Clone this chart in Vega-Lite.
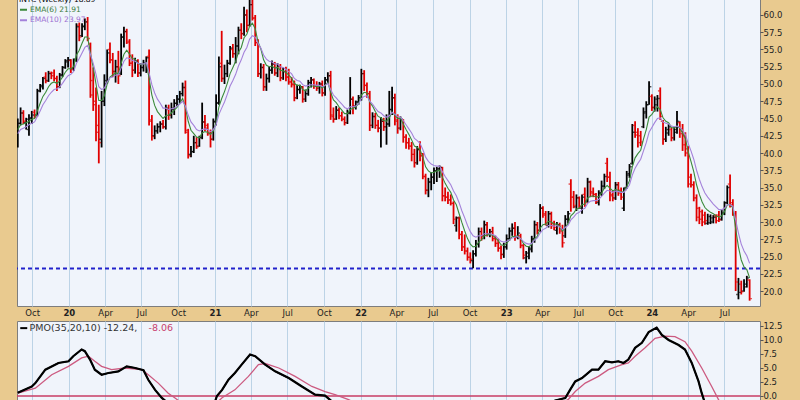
{
"$schema":"https://vega.github.io/schema/vega-lite/v6.json",
"background":"#e9ca8f",
"padding":{"left":15,"top":-7,"right":0,"bottom":0},
"spacing":2,
"config":{"font":"DejaVu Sans","view":{"fill":"#f0f4fb","stroke":"#7d7d7d","strokeWidth":1},
"axis":{"labelFont":"DejaVu Sans","labelFontSize":8.5,"labelColor":"#222222","gridOpacity":1,"gridWidth":1}},
"resolve":{"scale":{"x":"independent","y":"independent","color":"independent"},"legend":{"color":"independent"}},
"datasets":{
"px":[
{"d":"2019-08-26","o":41.5,"h":45.0,"l":40.8,"c":44.3,"e6":43.4,"e10":42.8},
{"d":"2019-09-02","o":44.3,"h":46.6,"l":44.0,"c":45.8,"e6":44.1,"e10":43.4},
{"d":"2019-09-09","o":45.8,"h":46.2,"l":44.2,"c":44.6,"e6":44.2,"e10":43.6},
{"d":"2019-09-16","o":44.4,"h":45.1,"l":43.4,"c":44.9,"e6":44.4,"e10":43.8},
{"d":"2019-09-23","o":43.4,"h":45.6,"l":42.5,"c":45.1,"e6":44.6,"e10":44.1},
{"d":"2019-09-30","o":45.0,"h":46.1,"l":44.2,"c":45.5,"e6":44.9,"e10":44.3},
{"d":"2019-10-07","o":45.9,"h":46.3,"l":45.0,"c":45.2,"e6":45.0,"e10":44.5},
{"d":"2019-10-14","o":45.5,"h":49.3,"l":45.3,"c":49.0,"e6":46.1,"e10":45.3},
{"d":"2019-10-21","o":49.0,"h":50.0,"l":48.8,"c":49.8,"e6":47.2,"e10":46.1},
{"d":"2019-10-28","o":49.6,"h":51.0,"l":49.2,"c":50.8,"e6":48.2,"e10":47.0},
{"d":"2019-11-04","o":51.0,"h":51.7,"l":50.1,"c":50.4,"e6":48.8,"e10":47.6},
{"d":"2019-11-11","o":50.5,"h":51.9,"l":50.3,"c":51.5,"e6":49.6,"e10":48.3},
{"d":"2019-11-18","o":51.6,"h":51.8,"l":50.7,"c":51.2,"e6":50.1,"e10":48.8},
{"d":"2019-11-25","o":51.6,"h":52.1,"l":50.4,"c":50.8,"e6":50.3,"e10":49.2},
{"d":"2019-12-02","o":50.8,"h":51.2,"l":49.0,"c":49.6,"e6":50.1,"e10":49.3},
{"d":"2019-12-09","o":49.6,"h":51.6,"l":49.4,"c":51.3,"e6":50.4,"e10":49.6},
{"d":"2019-12-16","o":51.3,"h":52.6,"l":51.0,"c":52.4,"e6":51.0,"e10":50.1},
{"d":"2019-12-23","o":52.4,"h":53.6,"l":52.2,"c":53.4,"e6":51.7,"e10":50.7},
{"d":"2019-12-30","o":53.2,"h":53.9,"l":52.4,"c":53.5,"e6":52.2,"e10":51.2},
{"d":"2020-01-06","o":53.4,"h":53.6,"l":51.6,"c":52.2,"e6":52.2,"e10":51.4},
{"d":"2020-01-13","o":52.2,"h":53.7,"l":51.9,"c":53.4,"e6":52.5,"e10":51.8},
{"d":"2020-01-20","o":53.6,"h":58.8,"l":53.2,"c":58.3,"e6":54.2,"e10":53.0},
{"d":"2020-01-27","o":58.5,"h":58.9,"l":56.2,"c":56.8,"e6":54.9,"e10":53.7},
{"d":"2020-02-03","o":57.0,"h":58.8,"l":56.8,"c":58.4,"e6":55.9,"e10":54.5},
{"d":"2020-02-10","o":58.3,"h":59.5,"l":57.8,"c":59.0,"e6":56.8,"e10":55.3},
{"d":"2020-02-17","o":59.0,"h":59.7,"l":56.2,"c":56.6,"e6":56.8,"e10":55.6},
{"d":"2020-02-24","o":55.8,"h":56.0,"l":48.0,"c":48.4,"e6":54.4,"e10":54.3},
{"d":"2020-03-02","o":50.5,"h":52.4,"l":46.1,"c":47.5,"e6":52.4,"e10":53.0},
{"d":"2020-03-09","o":47.0,"h":49.5,"l":41.7,"c":44.0,"e6":50.0,"e10":51.4},
{"d":"2020-03-16","o":43.0,"h":47.0,"l":38.5,"c":41.5,"e6":47.6,"e10":49.6},
{"d":"2020-03-23","o":42.0,"h":49.0,"l":40.8,"c":47.5,"e6":47.6,"e10":49.2},
{"d":"2020-03-30","o":47.5,"h":51.4,"l":46.8,"c":50.0,"e6":48.3,"e10":49.4},
{"d":"2020-04-06","o":50.5,"h":55.0,"l":50.0,"c":54.5,"e6":50.0,"e10":50.3},
{"d":"2020-04-13","o":55.0,"h":56.0,"l":53.0,"c":53.5,"e6":51.0,"e10":50.9},
{"d":"2020-04-20","o":53.5,"h":54.5,"l":51.0,"c":51.8,"e6":51.3,"e10":51.0},
{"d":"2020-04-27","o":51.8,"h":53.5,"l":50.2,"c":52.5,"e6":51.6,"e10":51.3},
{"d":"2020-05-04","o":52.5,"h":54.8,"l":50.0,"c":51.2,"e6":51.5,"e10":51.3},
{"d":"2020-05-11","o":51.5,"h":57.3,"l":51.3,"c":56.8,"e6":53.0,"e10":52.3},
{"d":"2020-05-18","o":56.8,"h":58.3,"l":55.3,"c":57.6,"e6":54.3,"e10":53.3},
{"d":"2020-05-25","o":57.6,"h":58.0,"l":55.8,"c":56.2,"e6":54.9,"e10":53.8},
{"d":"2020-06-01","o":56.0,"h":56.5,"l":52.6,"c":53.0,"e6":54.3,"e10":53.7},
{"d":"2020-06-08","o":53.0,"h":54.3,"l":51.0,"c":52.0,"e6":53.7,"e10":53.4},
{"d":"2020-06-15","o":52.0,"h":53.8,"l":51.5,"c":53.3,"e6":53.6,"e10":53.3},
{"d":"2020-06-22","o":53.3,"h":53.6,"l":51.0,"c":51.6,"e6":53.0,"e10":53.0},
{"d":"2020-06-29","o":51.6,"h":53.0,"l":51.1,"c":52.4,"e6":52.8,"e10":52.9},
{"d":"2020-07-06","o":52.4,"h":53.5,"l":51.8,"c":53.0,"e6":52.9,"e10":52.9},
{"d":"2020-07-13","o":53.0,"h":54.0,"l":51.6,"c":53.8,"e6":53.1,"e10":53.1},
{"d":"2020-07-20","o":54.0,"h":55.0,"l":44.0,"c":44.8,"e6":50.8,"e10":51.6},
{"d":"2020-07-27","o":44.6,"h":45.5,"l":41.8,"c":42.4,"e6":48.4,"e10":49.9},
{"d":"2020-08-03","o":42.5,"h":44.0,"l":42.0,"c":43.2,"e6":46.9,"e10":48.7},
{"d":"2020-08-10","o":43.2,"h":44.3,"l":42.8,"c":43.8,"e6":46.0,"e10":47.8},
{"d":"2020-08-17","o":43.8,"h":44.6,"l":43.0,"c":44.2,"e6":45.5,"e10":47.2},
{"d":"2020-08-24","o":44.2,"h":44.8,"l":43.5,"c":43.8,"e6":45.0,"e10":46.5},
{"d":"2020-08-31","o":43.8,"h":47.0,"l":43.4,"c":46.5,"e6":45.4,"e10":46.5},
{"d":"2020-09-07","o":46.3,"h":47.0,"l":44.8,"c":45.5,"e6":45.5,"e10":46.3},
{"d":"2020-09-14","o":45.5,"h":47.3,"l":45.0,"c":46.5,"e6":45.8,"e10":46.4},
{"d":"2020-09-21","o":46.3,"h":47.8,"l":45.5,"c":47.2,"e6":46.2,"e10":46.5},
{"d":"2020-09-28","o":47.2,"h":48.4,"l":46.8,"c":47.8,"e6":46.6,"e10":46.8},
{"d":"2020-10-05","o":47.8,"h":49.0,"l":47.2,"c":48.6,"e6":47.2,"e10":47.1},
{"d":"2020-10-12","o":48.6,"h":50.2,"l":48.2,"c":49.5,"e6":47.9,"e10":47.5},
{"d":"2020-10-19","o":49.5,"h":50.5,"l":42.8,"c":43.3,"e6":46.6,"e10":46.8},
{"d":"2020-10-26","o":43.0,"h":43.5,"l":39.2,"c":39.6,"e6":44.6,"e10":45.5},
{"d":"2020-11-02","o":39.8,"h":41.0,"l":39.4,"c":40.2,"e6":43.3,"e10":44.5},
{"d":"2020-11-09","o":40.2,"h":42.5,"l":40.0,"c":41.5,"e6":42.8,"e10":44.0},
{"d":"2020-11-16","o":41.5,"h":42.3,"l":40.6,"c":40.9,"e6":42.3,"e10":43.4},
{"d":"2020-11-23","o":41.0,"h":42.5,"l":40.9,"c":42.2,"e6":42.2,"e10":43.2},
{"d":"2020-11-30","o":42.3,"h":47.3,"l":42.0,"c":44.5,"e6":42.9,"e10":43.4},
{"d":"2020-12-07","o":44.5,"h":45.5,"l":43.2,"c":43.6,"e6":43.1,"e10":43.5},
{"d":"2020-12-14","o":44.0,"h":44.3,"l":42.5,"c":42.9,"e6":43.0,"e10":43.4},
{"d":"2020-12-21","o":42.8,"h":43.4,"l":40.8,"c":42.0,"e6":42.7,"e10":43.1},
{"d":"2020-12-28","o":42.0,"h":45.0,"l":41.8,"c":44.5,"e6":43.2,"e10":43.4},
{"d":"2021-01-04","o":44.6,"h":48.5,"l":44.0,"c":47.2,"e6":44.4,"e10":44.1},
{"d":"2021-01-11","o":47.3,"h":54.0,"l":47.0,"c":52.5,"e6":46.7,"e10":45.6},
{"d":"2021-01-18","o":53.0,"h":57.7,"l":50.3,"c":50.8,"e6":47.9,"e10":46.5},
{"d":"2021-01-25","o":50.8,"h":52.8,"l":50.0,"c":51.5,"e6":48.9,"e10":47.4},
{"d":"2021-02-01","o":51.5,"h":53.5,"l":51.0,"c":53.0,"e6":50.1,"e10":48.5},
{"d":"2021-02-08","o":53.0,"h":55.5,"l":52.8,"c":55.2,"e6":51.5,"e10":49.7},
{"d":"2021-02-15","o":55.0,"h":55.8,"l":53.8,"c":54.4,"e6":52.4,"e10":50.5},
{"d":"2021-02-22","o":54.4,"h":56.8,"l":53.0,"c":55.5,"e6":53.3,"e10":51.4},
{"d":"2021-03-01","o":55.5,"h":58.3,"l":54.3,"c":57.8,"e6":54.6,"e10":52.6},
{"d":"2021-03-08","o":57.8,"h":58.8,"l":56.5,"c":57.3,"e6":55.3,"e10":53.5},
{"d":"2021-03-15","o":57.3,"h":61.2,"l":57.0,"c":60.0,"e6":56.7,"e10":54.6},
{"d":"2021-03-22","o":60.0,"h":60.8,"l":57.5,"c":58.5,"e6":57.2,"e10":55.3},
{"d":"2021-03-29","o":58.5,"h":62.8,"l":58.3,"c":61.5,"e6":58.4,"e10":56.5},
{"d":"2021-04-05","o":61.5,"h":62.5,"l":59.2,"c":59.6,"e6":58.8,"e10":57.0},
{"d":"2021-04-12","o":59.5,"h":60.0,"l":55.5,"c":56.0,"e6":58.0,"e10":56.8},
{"d":"2021-04-19","o":56.0,"h":56.5,"l":51.0,"c":51.5,"e6":56.1,"e10":55.9},
{"d":"2021-04-26","o":51.5,"h":53.0,"l":50.8,"c":52.4,"e6":55.1,"e10":55.2},
{"d":"2021-05-03","o":52.4,"h":52.9,"l":49.0,"c":49.6,"e6":53.5,"e10":54.2},
{"d":"2021-05-10","o":49.6,"h":51.5,"l":49.0,"c":50.8,"e6":52.7,"e10":53.6},
{"d":"2021-05-17","o":50.8,"h":52.5,"l":50.2,"c":52.0,"e6":52.5,"e10":53.3},
{"d":"2021-05-24","o":52.0,"h":53.4,"l":51.5,"c":52.9,"e6":52.6,"e10":53.2},
{"d":"2021-05-31","o":52.9,"h":53.2,"l":51.2,"c":51.6,"e6":52.3,"e10":52.9},
{"d":"2021-06-07","o":51.6,"h":53.0,"l":51.0,"c":52.6,"e6":52.4,"e10":52.9},
{"d":"2021-06-14","o":52.6,"h":52.9,"l":50.4,"c":50.9,"e6":52.0,"e10":52.5},
{"d":"2021-06-21","o":50.9,"h":52.4,"l":50.6,"c":51.8,"e6":51.9,"e10":52.4},
{"d":"2021-06-28","o":51.8,"h":52.5,"l":50.4,"c":51.0,"e6":51.7,"e10":52.1},
{"d":"2021-07-05","o":51.0,"h":52.2,"l":49.9,"c":50.3,"e6":51.3,"e10":51.8},
{"d":"2021-07-12","o":50.3,"h":51.0,"l":49.5,"c":49.9,"e6":50.9,"e10":51.5},
{"d":"2021-07-19","o":50.0,"h":50.5,"l":47.5,"c":48.0,"e6":50.1,"e10":50.8},
{"d":"2021-07-26","o":48.0,"h":49.9,"l":47.8,"c":49.2,"e6":49.8,"e10":50.5},
{"d":"2021-08-02","o":49.2,"h":49.9,"l":48.6,"c":49.6,"e6":49.8,"e10":50.4},
{"d":"2021-08-09","o":49.6,"h":49.7,"l":47.3,"c":47.8,"e6":49.2,"e10":49.9},
{"d":"2021-08-16","o":47.8,"h":49.2,"l":47.4,"c":48.6,"e6":49.0,"e10":49.7},
{"d":"2021-08-23","o":48.6,"h":50.6,"l":48.3,"c":50.2,"e6":49.4,"e10":49.8},
{"d":"2021-08-30","o":50.2,"h":51.0,"l":49.5,"c":50.6,"e6":49.7,"e10":49.9},
{"d":"2021-09-06","o":50.6,"h":50.8,"l":49.3,"c":49.7,"e6":49.7,"e10":49.9},
{"d":"2021-09-13","o":49.7,"h":50.4,"l":49.0,"c":49.4,"e6":49.6,"e10":49.8},
{"d":"2021-09-20","o":49.4,"h":50.3,"l":48.6,"c":50.0,"e6":49.7,"e10":49.8},
{"d":"2021-09-27","o":50.0,"h":50.5,"l":48.2,"c":48.7,"e6":49.4,"e10":49.6},
{"d":"2021-10-04","o":48.7,"h":51.0,"l":48.3,"c":50.6,"e6":49.8,"e10":49.8},
{"d":"2021-10-11","o":50.6,"h":51.7,"l":50.0,"c":51.2,"e6":50.2,"e10":50.1},
{"d":"2021-10-18","o":51.2,"h":51.9,"l":44.8,"c":45.3,"e6":48.8,"e10":49.2},
{"d":"2021-10-25","o":45.5,"h":46.6,"l":44.4,"c":44.9,"e6":47.7,"e10":48.4},
{"d":"2021-11-01","o":44.9,"h":46.8,"l":44.8,"c":46.2,"e6":47.3,"e10":48.0},
{"d":"2021-11-08","o":46.2,"h":46.6,"l":44.9,"c":45.4,"e6":46.7,"e10":47.5},
{"d":"2021-11-15","o":45.4,"h":46.0,"l":44.6,"c":44.9,"e6":46.2,"e10":47.1},
{"d":"2021-11-22","o":44.9,"h":45.3,"l":44.0,"c":44.4,"e6":45.7,"e10":46.6},
{"d":"2021-11-29","o":44.4,"h":46.3,"l":44.2,"c":45.8,"e6":45.7,"e10":46.4},
{"d":"2021-12-06","o":45.8,"h":51.0,"l":45.6,"c":47.8,"e6":46.3,"e10":46.7},
{"d":"2021-12-13","o":47.8,"h":48.2,"l":45.6,"c":46.8,"e6":46.5,"e10":46.7},
{"d":"2021-12-20","o":46.8,"h":47.6,"l":46.3,"c":47.4,"e6":46.7,"e10":46.8},
{"d":"2021-12-27","o":47.4,"h":48.4,"l":47.0,"c":48.0,"e6":47.1,"e10":47.1},
{"d":"2022-01-03","o":48.0,"h":52.2,"l":47.6,"c":51.5,"e6":48.4,"e10":47.9},
{"d":"2022-01-10","o":51.5,"h":52.0,"l":49.0,"c":49.8,"e6":48.8,"e10":48.2},
{"d":"2022-01-17","o":49.8,"h":50.2,"l":48.0,"c":48.6,"e6":48.7,"e10":48.3},
{"d":"2022-01-24","o":48.6,"h":49.0,"l":43.2,"c":44.0,"e6":47.4,"e10":47.5},
{"d":"2022-01-31","o":44.0,"h":45.9,"l":43.6,"c":45.3,"e6":46.8,"e10":47.1},
{"d":"2022-02-07","o":45.3,"h":45.8,"l":43.5,"c":44.0,"e6":46.0,"e10":46.5},
{"d":"2022-02-14","o":44.0,"h":44.8,"l":43.0,"c":43.6,"e6":45.3,"e10":46.0},
{"d":"2022-02-21","o":43.6,"h":45.2,"l":40.8,"c":44.6,"e6":45.1,"e10":45.8},
{"d":"2022-02-28","o":44.6,"h":45.1,"l":43.2,"c":43.8,"e6":44.7,"e10":45.4},
{"d":"2022-03-07","o":43.8,"h":45.6,"l":41.2,"c":44.2,"e6":44.6,"e10":45.2},
{"d":"2022-03-14","o":44.2,"h":49.0,"l":43.8,"c":46.3,"e6":45.1,"e10":45.4},
{"d":"2022-03-21","o":46.3,"h":49.6,"l":45.5,"c":48.0,"e6":45.9,"e10":45.9},
{"d":"2022-03-28","o":48.0,"h":48.6,"l":44.0,"c":44.6,"e6":45.5,"e10":45.6},
{"d":"2022-04-04","o":44.8,"h":45.6,"l":42.8,"c":43.6,"e6":45.0,"e10":45.3},
{"d":"2022-04-11","o":43.6,"h":45.3,"l":43.3,"c":44.9,"e6":45.0,"e10":45.2},
{"d":"2022-04-18","o":44.9,"h":44.9,"l":41.5,"c":42.3,"e6":44.2,"e10":44.7},
{"d":"2022-04-25","o":42.3,"h":42.7,"l":40.6,"c":41.5,"e6":43.4,"e10":44.1},
{"d":"2022-05-02","o":41.5,"h":42.2,"l":40.5,"c":41.0,"e6":42.7,"e10":43.5},
{"d":"2022-05-09","o":41.0,"h":41.6,"l":38.8,"c":39.8,"e6":41.9,"e10":42.9},
{"d":"2022-05-16","o":39.8,"h":40.6,"l":37.9,"c":38.6,"e6":41.0,"e10":42.1},
{"d":"2022-05-23","o":38.6,"h":41.0,"l":38.3,"c":40.5,"e6":40.8,"e10":41.8},
{"d":"2022-05-30","o":40.5,"h":41.7,"l":38.8,"c":39.6,"e6":40.5,"e10":41.4},
{"d":"2022-06-06","o":39.6,"h":40.0,"l":36.2,"c":36.6,"e6":39.4,"e10":40.5},
{"d":"2022-06-13","o":36.6,"h":37.0,"l":34.0,"c":34.6,"e6":38.0,"e10":39.4},
{"d":"2022-06-20","o":34.6,"h":36.4,"l":33.6,"c":35.8,"e6":37.4,"e10":38.8},
{"d":"2022-06-27","o":35.8,"h":37.2,"l":34.6,"c":36.5,"e6":37.1,"e10":38.4},
{"d":"2022-07-04","o":36.5,"h":37.9,"l":35.5,"c":37.4,"e6":37.2,"e10":38.2},
{"d":"2022-07-11","o":37.4,"h":38.0,"l":35.8,"c":37.7,"e6":37.4,"e10":38.1},
{"d":"2022-07-18","o":37.7,"h":38.2,"l":36.4,"c":37.9,"e6":37.5,"e10":38.1},
{"d":"2022-07-25","o":37.9,"h":38.0,"l":33.0,"c":33.8,"e6":36.5,"e10":37.3},
{"d":"2022-08-01","o":33.8,"h":35.0,"l":33.0,"c":33.6,"e6":35.6,"e10":36.6},
{"d":"2022-08-08","o":33.6,"h":34.4,"l":32.6,"c":33.2,"e6":34.9,"e10":36.0},
{"d":"2022-08-15","o":33.2,"h":34.0,"l":32.4,"c":32.7,"e6":34.3,"e10":35.4},
{"d":"2022-08-22","o":32.7,"h":33.0,"l":29.7,"c":30.4,"e6":33.2,"e10":34.5},
{"d":"2022-08-29","o":29.5,"h":30.8,"l":28.6,"c":30.6,"e6":32.5,"e10":33.8},
{"d":"2022-09-05","o":30.6,"h":30.8,"l":27.5,"c":28.2,"e6":31.2,"e10":32.8},
{"d":"2022-09-12","o":28.2,"h":28.7,"l":25.8,"c":26.4,"e6":29.9,"e10":31.6},
{"d":"2022-09-19","o":26.4,"h":28.2,"l":25.3,"c":25.8,"e6":28.7,"e10":30.6},
{"d":"2022-09-26","o":25.8,"h":26.3,"l":24.4,"c":24.9,"e6":27.6,"e10":29.5},
{"d":"2022-10-03","o":24.9,"h":25.6,"l":24.0,"c":24.6,"e6":26.8,"e10":28.6},
{"d":"2022-10-10","o":24.4,"h":25.9,"l":23.3,"c":25.4,"e6":26.4,"e10":28.0},
{"d":"2022-10-17","o":25.4,"h":27.4,"l":25.0,"c":26.8,"e6":26.5,"e10":27.8},
{"d":"2022-10-24","o":26.8,"h":29.2,"l":26.3,"c":28.6,"e6":27.1,"e10":28.0},
{"d":"2022-10-31","o":28.6,"h":29.2,"l":27.3,"c":28.0,"e6":27.4,"e10":28.0},
{"d":"2022-11-07","o":28.0,"h":30.2,"l":27.5,"c":29.6,"e6":28.0,"e10":28.3},
{"d":"2022-11-14","o":29.6,"h":30.0,"l":27.9,"c":28.3,"e6":28.1,"e10":28.3},
{"d":"2022-11-21","o":28.3,"h":29.0,"l":27.8,"c":28.6,"e6":28.2,"e10":28.3},
{"d":"2022-11-28","o":28.6,"h":29.3,"l":27.2,"c":27.6,"e6":28.1,"e10":28.2},
{"d":"2022-12-05","o":27.6,"h":28.0,"l":26.4,"c":26.9,"e6":27.7,"e10":28.0},
{"d":"2022-12-12","o":26.9,"h":27.6,"l":25.7,"c":26.2,"e6":27.3,"e10":27.6},
{"d":"2022-12-19","o":26.2,"h":26.6,"l":24.6,"c":25.3,"e6":26.7,"e10":27.2},
{"d":"2022-12-26","o":25.3,"h":27.0,"l":24.8,"c":26.4,"e6":26.6,"e10":27.1},
{"d":"2023-01-02","o":26.4,"h":28.2,"l":26.0,"c":27.6,"e6":26.9,"e10":27.2},
{"d":"2023-01-09","o":27.6,"h":29.2,"l":27.3,"c":28.7,"e6":27.4,"e10":27.4},
{"d":"2023-01-16","o":28.7,"h":29.8,"l":28.0,"c":29.1,"e6":27.9,"e10":27.7},
{"d":"2023-01-23","o":29.1,"h":30.0,"l":27.3,"c":27.8,"e6":27.9,"e10":27.8},
{"d":"2023-01-30","o":27.8,"h":29.4,"l":27.5,"c":28.4,"e6":28.0,"e10":27.9},
{"d":"2023-02-06","o":28.0,"h":28.3,"l":26.2,"c":26.6,"e6":27.6,"e10":27.6},
{"d":"2023-02-13","o":26.6,"h":26.8,"l":24.6,"c":25.2,"e6":26.9,"e10":27.2},
{"d":"2023-02-20","o":24.8,"h":25.8,"l":24.0,"c":25.5,"e6":26.5,"e10":26.9},
{"d":"2023-02-27","o":25.0,"h":26.5,"l":24.6,"c":26.2,"e6":26.4,"e10":26.8},
{"d":"2023-03-06","o":26.0,"h":28.0,"l":25.6,"c":27.6,"e6":26.8,"e10":26.9},
{"d":"2023-03-13","o":27.5,"h":30.2,"l":27.0,"c":29.6,"e6":27.6,"e10":27.4},
{"d":"2023-03-20","o":29.6,"h":30.0,"l":28.2,"c":28.8,"e6":27.9,"e10":27.7},
{"d":"2023-03-27","o":28.8,"h":32.6,"l":28.6,"c":32.0,"e6":29.1,"e10":28.4},
{"d":"2023-04-03","o":32.0,"h":32.3,"l":30.6,"c":31.0,"e6":29.6,"e10":28.9},
{"d":"2023-04-10","o":31.2,"h":31.6,"l":29.5,"c":29.9,"e6":29.7,"e10":29.1},
{"d":"2023-04-17","o":29.5,"h":31.6,"l":29.2,"c":31.2,"e6":30.1,"e10":29.5},
{"d":"2023-04-24","o":31.2,"h":31.5,"l":29.0,"c":29.5,"e6":30.0,"e10":29.5},
{"d":"2023-05-01","o":29.8,"h":30.2,"l":28.8,"c":29.2,"e6":29.7,"e10":29.4},
{"d":"2023-05-08","o":28.8,"h":30.0,"l":28.2,"c":29.6,"e6":29.7,"e10":29.5},
{"d":"2023-05-15","o":29.6,"h":29.9,"l":28.3,"c":28.7,"e6":29.4,"e10":29.3},
{"d":"2023-05-22","o":29.0,"h":29.6,"l":26.3,"c":27.0,"e6":28.7,"e10":28.9},
{"d":"2023-05-29","o":28.0,"h":31.0,"l":27.7,"c":30.4,"e6":29.2,"e10":29.2},
{"d":"2023-06-05","o":30.4,"h":31.6,"l":29.8,"c":31.2,"e6":29.8,"e10":29.5},
{"d":"2023-06-12","o":35.5,"h":36.2,"l":31.5,"c":33.6,"e6":30.9,"e10":30.3},
{"d":"2023-06-19","o":33.6,"h":34.5,"l":32.0,"c":32.4,"e6":31.3,"e10":30.7},
{"d":"2023-06-26","o":32.2,"h":34.0,"l":31.6,"c":33.5,"e6":31.9,"e10":31.2},
{"d":"2023-07-03","o":33.5,"h":33.7,"l":31.9,"c":32.3,"e6":32.0,"e10":31.4},
{"d":"2023-07-10","o":32.0,"h":34.0,"l":31.2,"c":33.6,"e6":32.5,"e10":31.8},
{"d":"2023-07-17","o":34.0,"h":35.0,"l":32.2,"c":32.8,"e6":32.6,"e10":32.0},
{"d":"2023-07-24","o":33.0,"h":36.4,"l":32.8,"c":35.8,"e6":33.5,"e10":32.7},
{"d":"2023-07-31","o":35.8,"h":36.0,"l":33.6,"c":34.2,"e6":33.7,"e10":33.0},
{"d":"2023-08-07","o":34.4,"h":35.0,"l":33.6,"c":34.0,"e6":33.8,"e10":33.1},
{"d":"2023-08-14","o":34.0,"h":34.2,"l":32.6,"c":33.0,"e6":33.6,"e10":33.1},
{"d":"2023-08-21","o":32.8,"h":34.6,"l":32.4,"c":34.2,"e6":33.7,"e10":33.3},
{"d":"2023-08-28","o":34.2,"h":36.0,"l":33.8,"c":35.2,"e6":34.2,"e10":33.7},
{"d":"2023-09-04","o":35.2,"h":37.0,"l":34.8,"c":36.6,"e6":34.9,"e10":34.2},
{"d":"2023-09-11","o":38.5,"h":39.3,"l":35.8,"c":36.5,"e6":35.3,"e10":34.6},
{"d":"2023-09-18","o":36.5,"h":37.3,"l":33.0,"c":33.8,"e6":34.9,"e10":34.5},
{"d":"2023-09-25","o":34.0,"h":34.5,"l":33.0,"c":33.4,"e6":34.5,"e10":34.3},
{"d":"2023-10-02","o":33.5,"h":35.8,"l":33.2,"c":35.4,"e6":34.7,"e10":34.5},
{"d":"2023-10-09","o":35.4,"h":35.8,"l":33.8,"c":34.2,"e6":34.6,"e10":34.4},
{"d":"2023-10-16","o":34.6,"h":35.0,"l":33.2,"c":33.6,"e6":34.3,"e10":34.3},
{"d":"2023-10-23","o":32.0,"h":35.0,"l":31.6,"c":34.6,"e6":34.4,"e10":34.3},
{"d":"2023-10-30","o":35.0,"h":37.4,"l":34.8,"c":37.0,"e6":35.1,"e10":34.8},
{"d":"2023-11-06","o":36.8,"h":38.4,"l":36.4,"c":38.0,"e6":36.0,"e10":35.4},
{"d":"2023-11-13","o":38.5,"h":44.2,"l":38.3,"c":43.0,"e6":38.0,"e10":36.8},
{"d":"2023-11-20","o":44.0,"h":44.6,"l":42.2,"c":42.6,"e6":39.3,"e10":37.8},
{"d":"2023-11-27","o":43.0,"h":43.6,"l":40.8,"c":41.5,"e6":39.9,"e10":38.5},
{"d":"2023-12-04","o":42.5,"h":43.2,"l":41.0,"c":41.6,"e6":40.4,"e10":39.1},
{"d":"2023-12-11","o":43.8,"h":46.6,"l":43.6,"c":46.0,"e6":42.0,"e10":40.3},
{"d":"2023-12-18","o":45.8,"h":47.5,"l":45.0,"c":47.0,"e6":43.4,"e10":41.5},
{"d":"2023-12-25","o":47.0,"h":50.4,"l":47.0,"c":49.6,"e6":45.2,"e10":43.0},
{"d":"2024-01-01","o":48.2,"h":48.5,"l":46.1,"c":46.6,"e6":45.6,"e10":43.7},
{"d":"2024-01-08","o":46.6,"h":48.2,"l":46.0,"c":47.8,"e6":46.2,"e10":44.4},
{"d":"2024-01-15","o":47.0,"h":48.4,"l":46.0,"c":47.9,"e6":46.7,"e10":45.0},
{"d":"2024-01-22","o":49.0,"h":49.5,"l":44.8,"c":45.3,"e6":46.3,"e10":45.1},
{"d":"2024-01-29","o":44.6,"h":44.8,"l":41.2,"c":42.0,"e6":45.1,"e10":44.5},
{"d":"2024-02-05","o":42.0,"h":43.8,"l":41.6,"c":43.4,"e6":44.6,"e10":44.3},
{"d":"2024-02-12","o":42.9,"h":44.2,"l":42.5,"c":43.8,"e6":44.4,"e10":44.2},
{"d":"2024-02-19","o":43.4,"h":43.7,"l":41.7,"c":42.2,"e6":43.7,"e10":43.9},
{"d":"2024-02-26","o":42.2,"h":43.8,"l":41.8,"c":43.4,"e6":43.6,"e10":43.8},
{"d":"2024-03-04","o":43.0,"h":46.1,"l":42.8,"c":44.6,"e6":43.9,"e10":43.9},
{"d":"2024-03-11","o":44.4,"h":44.6,"l":42.2,"c":42.8,"e6":43.6,"e10":43.7},
{"d":"2024-03-18","o":43.5,"h":44.2,"l":40.3,"c":41.2,"e6":42.9,"e10":43.3},
{"d":"2024-03-25","o":42.5,"h":43.0,"l":39.5,"c":40.0,"e6":42.1,"e10":42.7},
{"d":"2024-04-01","o":40.6,"h":41.0,"l":35.0,"c":35.5,"e6":40.2,"e10":41.4},
{"d":"2024-04-08","o":36.5,"h":37.0,"l":35.0,"c":35.4,"e6":38.8,"e10":40.3},
{"d":"2024-04-15","o":35.4,"h":35.9,"l":33.0,"c":33.5,"e6":37.3,"e10":39.1},
{"d":"2024-04-22","o":33.5,"h":34.0,"l":30.1,"c":30.7,"e6":35.4,"e10":37.5},
{"d":"2024-04-29","o":32.0,"h":32.2,"l":29.7,"c":30.4,"e6":34.0,"e10":36.2},
{"d":"2024-05-06","o":31.5,"h":31.8,"l":29.4,"c":30.0,"e6":32.9,"e10":35.1},
{"d":"2024-05-13","o":31.0,"h":31.5,"l":29.6,"c":30.2,"e6":32.1,"e10":34.2},
{"d":"2024-05-20","o":29.8,"h":31.2,"l":29.6,"c":30.8,"e6":31.7,"e10":33.6},
{"d":"2024-05-27","o":29.9,"h":31.1,"l":29.7,"c":30.6,"e6":31.4,"e10":33.1},
{"d":"2024-06-03","o":30.0,"h":31.0,"l":29.8,"c":30.7,"e6":31.2,"e10":32.6},
{"d":"2024-06-10","o":30.9,"h":31.1,"l":29.8,"c":30.2,"e6":30.9,"e10":32.2},
{"d":"2024-06-17","o":31.0,"h":31.6,"l":30.0,"c":30.3,"e6":30.7,"e10":31.8},
{"d":"2024-06-24","o":30.4,"h":31.8,"l":30.2,"c":31.4,"e6":30.9,"e10":31.8},
{"d":"2024-07-01","o":31.2,"h":33.0,"l":31.0,"c":32.8,"e6":31.5,"e10":32.0},
{"d":"2024-07-08","o":32.8,"h":35.3,"l":32.6,"c":35.0,"e6":32.5,"e10":32.5},
{"d":"2024-07-15","o":35.5,"h":36.9,"l":32.1,"c":32.5,"e6":32.5,"e10":32.5},
{"d":"2024-07-22","o":32.8,"h":33.3,"l":30.9,"c":31.2,"e6":32.1,"e10":32.3},
{"d":"2024-07-29","o":31.0,"h":31.6,"l":20.0,"c":21.3,"e6":29.0,"e10":30.3},
{"d":"2024-08-05","o":19.5,"h":21.9,"l":18.8,"c":19.8,"e6":26.4,"e10":28.4},
{"d":"2024-08-12","o":21.0,"h":21.5,"l":19.5,"c":19.9,"e6":24.5,"e10":26.8},
{"d":"2024-08-19","o":20.0,"h":21.7,"l":19.9,"c":21.0,"e6":23.5,"e10":25.8},
{"d":"2024-08-26","o":20.6,"h":22.2,"l":20.5,"c":21.9,"e6":23.1,"e10":25.1},
{"d":"2024-09-02","o":21.6,"h":21.7,"l":18.6,"c":18.9,"e6":21.9,"e10":24.0}
],
"pmo":[
{"d":"2019-08-26","k":"pmo","v":0.6},{"d":"2019-09-30","k":"pmo","v":1.7},{"d":"2019-10-09","k":"pmo","v":2.3},{"d":"2019-11-03","k":"pmo","v":4.7},{"d":"2019-12-06","k":"pmo","v":5.9},{"d":"2019-12-31","k":"pmo","v":6.2},{"d":"2020-01-12","k":"pmo","v":7.1},{"d":"2020-02-02","k":"pmo","v":8.3},{"d":"2020-02-10","k":"pmo","v":8.0},{"d":"2020-02-23","k":"pmo","v":6.5},{"d":"2020-03-06","k":"pmo","v":4.7},{"d":"2020-03-23","k":"pmo","v":3.8},{"d":"2020-04-09","k":"pmo","v":4.1},{"d":"2020-05-04","k":"pmo","v":4.4},{"d":"2020-05-25","k":"pmo","v":5.3},{"d":"2020-06-15","k":"pmo","v":5.0},{"d":"2020-07-06","k":"pmo","v":4.6},{"d":"2020-07-18","k":"pmo","v":2.9},{"d":"2020-08-04","k":"pmo","v":1.1},{"d":"2020-08-21","k":"pmo","v":-0.35},{"d":"2020-09-06","k":"pmo","v":-1.3},{"d":"2020-09-20","k":"pmo","v":-1.2},{"d":"2020-10-04","k":"pmo","v":-0.95},{"d":"2020-10-18","k":"pmo","v":-1.8},{"d":"2020-11-08","k":"pmo","v":-3.2},{"d":"2020-12-06","k":"pmo","v":-3.0},{"d":"2020-12-31","k":"pmo","v":-1.25},{"d":"2021-01-06","k":"pmo","v":0.0},{"d":"2021-01-19","k":"pmo","v":1.1},{"d":"2021-02-04","k":"pmo","v":2.9},{"d":"2021-02-20","k":"pmo","v":4.1},{"d":"2021-03-09","k":"pmo","v":5.6},{"d":"2021-03-30","k":"pmo","v":7.4},{"d":"2021-04-12","k":"pmo","v":7.1},{"d":"2021-05-07","k":"pmo","v":5.6},{"d":"2021-06-01","k":"pmo","v":4.4},{"d":"2021-07-05","k":"pmo","v":3.2},{"d":"2021-08-07","k":"pmo","v":1.7},{"d":"2021-09-09","k":"pmo","v":0.24},{"d":"2021-10-04","k":"pmo","v":0.07},{"d":"2021-10-21","k":"pmo","v":-0.95},{"d":"2021-11-10","k":"pmo","v":-2.0},{"d":"2021-12-05","k":"pmo","v":-1.6},{"d":"2022-01-04","k":"pmo","v":-0.95},{"d":"2022-01-25","k":"pmo","v":-1.8},{"d":"2022-03-01","k":"pmo","v":-3.0},{"d":"2022-06-01","k":"pmo","v":-6.0},{"d":"2022-10-01","k":"pmo","v":-9.0},{"d":"2023-01-01","k":"pmo","v":-6.0},{"d":"2023-03-15","k":"pmo","v":-2.5},{"d":"2023-04-17","k":"pmo","v":-1.25},{"d":"2023-05-04","k":"pmo","v":-0.8},{"d":"2023-05-29","k":"pmo","v":-0.35},{"d":"2023-06-10","k":"pmo","v":1.1},{"d":"2023-06-23","k":"pmo","v":2.6},{"d":"2023-07-10","k":"pmo","v":3.2},{"d":"2023-08-04","k":"pmo","v":4.7},{"d":"2023-08-20","k":"pmo","v":4.7},{"d":"2023-09-06","k":"pmo","v":6.2},{"d":"2023-09-23","k":"pmo","v":6.0},{"d":"2023-10-09","k":"pmo","v":6.2},{"d":"2023-10-22","k":"pmo","v":5.9},{"d":"2023-11-03","k":"pmo","v":6.5},{"d":"2023-11-20","k":"pmo","v":8.6},{"d":"2023-12-07","k":"pmo","v":9.5},{"d":"2023-12-24","k":"pmo","v":11.4},{"d":"2024-01-13","k":"pmo","v":12.2},{"d":"2024-01-26","k":"pmo","v":10.9},{"d":"2024-02-12","k":"pmo","v":10.0},{"d":"2024-03-08","k":"pmo","v":9.1},{"d":"2024-03-24","k":"pmo","v":8.3},{"d":"2024-04-10","k":"pmo","v":5.9},{"d":"2024-04-27","k":"pmo","v":2.6},{"d":"2024-05-05","k":"pmo","v":0.5},{"d":"2024-05-13","k":"pmo","v":-1.25},{"d":"2024-06-10","k":"pmo","v":-5.5},{"d":"2024-07-15","k":"pmo","v":-8.0},{"d":"2024-09-02","k":"pmo","v":-12.24},
{"d":"2019-08-26","k":"sig","v":0.5},{"d":"2019-10-09","k":"sig","v":1.4},{"d":"2019-11-19","k":"sig","v":3.8},{"d":"2019-12-31","k":"sig","v":5.3},{"d":"2020-02-02","k":"sig","v":6.8},{"d":"2020-02-19","k":"sig","v":7.1},{"d":"2020-03-06","k":"sig","v":6.2},{"d":"2020-03-23","k":"sig","v":5.3},{"d":"2020-04-17","k":"sig","v":4.7},{"d":"2020-05-21","k":"sig","v":5.0},{"d":"2020-07-02","k":"sig","v":4.7},{"d":"2020-07-18","k":"sig","v":3.8},{"d":"2020-08-12","k":"sig","v":2.3},{"d":"2020-09-06","k":"sig","v":0.5},{"d":"2020-09-23","k":"sig","v":-0.35},{"d":"2020-10-10","k":"sig","v":-1.25},{"d":"2020-11-10","k":"sig","v":-2.5},{"d":"2020-12-10","k":"sig","v":-2.8},{"d":"2021-01-05","k":"sig","v":-1.25},{"d":"2021-01-19","k":"sig","v":-0.3},{"d":"2021-02-20","k":"sig","v":1.1},{"d":"2021-03-26","k":"sig","v":3.5},{"d":"2021-04-20","k":"sig","v":5.6},{"d":"2021-05-07","k":"sig","v":5.8},{"d":"2021-06-10","k":"sig","v":5.0},{"d":"2021-07-21","k":"sig","v":3.5},{"d":"2021-09-01","k":"sig","v":1.7},{"d":"2021-10-04","k":"sig","v":0.8},{"d":"2021-10-29","k":"sig","v":0.25},{"d":"2021-12-02","k":"sig","v":-0.65},{"d":"2021-12-18","k":"sig","v":-1.25},{"d":"2022-03-01","k":"sig","v":-2.5},{"d":"2022-07-01","k":"sig","v":-5.0},{"d":"2022-11-01","k":"sig","v":-7.0},{"d":"2023-02-01","k":"sig","v":-4.5},{"d":"2023-05-20","k":"sig","v":-1.25},{"d":"2023-06-05","k":"sig","v":-0.65},{"d":"2023-06-23","k":"sig","v":0.8},{"d":"2023-07-18","k":"sig","v":2.3},{"d":"2023-08-20","k":"sig","v":3.5},{"d":"2023-09-14","k":"sig","v":4.7},{"d":"2023-10-18","k":"sig","v":5.6},{"d":"2023-11-03","k":"sig","v":5.9},{"d":"2023-11-20","k":"sig","v":7.1},{"d":"2023-12-15","k":"sig","v":8.6},{"d":"2024-01-09","k":"sig","v":10.3},{"d":"2024-02-03","k":"sig","v":10.7},{"d":"2024-02-28","k":"sig","v":10.6},{"d":"2024-03-24","k":"sig","v":9.7},{"d":"2024-04-10","k":"sig","v":8.0},{"d":"2024-05-05","k":"sig","v":5.0},{"d":"2024-05-30","k":"sig","v":1.7},{"d":"2024-06-16","k":"sig","v":-0.65},{"d":"2024-06-24","k":"sig","v":-1.25},{"d":"2024-08-01","k":"sig","v":-5.0},{"d":"2024-09-02","k":"sig","v":-8.06}
]},
"vconcat":[
{"width":743,"height":312,
"layer":[
{"data":{"values":[{}]},"mark":{"type":"rule","color":"#2222cc","strokeWidth":2,"strokeDash":[4,3]},
"encoding":{"y":{"datum":23.25,"type":"quantitative","scale":{"domain":[17.83,63.04],"nice":false,"zero":false},
"axis":{"orient":"right","title":null,"values":[20,22.5,25,27.5,30,32.5,35,37.5,40,42.5,45,47.5,50,52.5,55,57.5,60],"tickCount":100,"labelOverlap":false,"format":".1f","tickSize":3,"tickColor":"#555555","domain":false,"labelPadding":0,"minExtent":42,"maxExtent":42,"gridColor":"#cddfee"}}}},
{"data":{"name":"px"},"mark":{"type":"rule","strokeWidth":1.8,"clip":true},
"encoding":{
"x":{"field":"d","type":"temporal","scale":{"type":"utc","domain":[{"year":2019,"month":8,"date":24,"utc":true},{"year":2024,"month":9,"date":28,"utc":true}]},
"axis":{"title":null,"orient":"bottom","tickCount":100,"values":[{"year":2019,"month":10,"date":1,"utc":true},{"year":2020,"month":1,"date":1,"utc":true},{"year":2020,"month":4,"date":1,"utc":true},{"year":2020,"month":7,"date":1,"utc":true},{"year":2020,"month":10,"date":1,"utc":true},{"year":2021,"month":1,"date":1,"utc":true},{"year":2021,"month":4,"date":1,"utc":true},{"year":2021,"month":7,"date":1,"utc":true},{"year":2021,"month":10,"date":1,"utc":true},{"year":2022,"month":1,"date":1,"utc":true},{"year":2022,"month":4,"date":1,"utc":true},{"year":2022,"month":7,"date":1,"utc":true},{"year":2022,"month":10,"date":1,"utc":true},{"year":2023,"month":1,"date":1,"utc":true},{"year":2023,"month":4,"date":1,"utc":true},{"year":2023,"month":7,"date":1,"utc":true},{"year":2023,"month":10,"date":1,"utc":true},{"year":2024,"month":1,"date":1,"utc":true},{"year":2024,"month":4,"date":1,"utc":true},{"year":2024,"month":7,"date":1,"utc":true}],
"labelExpr":"utcmonth(datum.value) == 0 ? utcFormat(datum.value, '%y') : utcFormat(datum.value, '%b')",
"labelFontWeight":{"condition":{"test":"utcmonth(datum.value) == 0","value":"bold"},"value":"normal"},
"ticks":false,"domain":false,"labelPadding":2.5,"minExtent":11,"maxExtent":11,"grid":true,"gridColor":"#bcd3e6","labelOverlap":false,"labelFlush":false}},
"y":{"field":"l","type":"quantitative","scale":{"domain":[17.83,63.04],"nice":false,"zero":false}},
"y2":{"field":"h"},
"color":{"condition":{"test":"datum.c >= datum.o","value":"#000000"},"value":"#e10000"}}},
{"data":{"name":"px"},"mark":{"type":"tick","orient":"horizontal","size":1.6,"thickness":1.4,"xOffset":-1.5,"clip":true},
"encoding":{"x":{"field":"d","type":"temporal","scale":{"type":"utc","domain":[{"year":2019,"month":8,"date":24,"utc":true},{"year":2024,"month":9,"date":28,"utc":true}]}},
"y":{"field":"o","type":"quantitative","scale":{"domain":[17.83,63.04],"nice":false,"zero":false}},
"color":{"condition":{"test":"datum.c >= datum.o","value":"#000000"},"value":"#e10000"}}},
{"data":{"name":"px"},"mark":{"type":"tick","orient":"horizontal","size":1.6,"thickness":1.4,"xOffset":1.5,"clip":true},
"encoding":{"x":{"field":"d","type":"temporal","scale":{"type":"utc","domain":[{"year":2019,"month":8,"date":24,"utc":true},{"year":2024,"month":9,"date":28,"utc":true}]}},
"y":{"field":"c","type":"quantitative","scale":{"domain":[17.83,63.04],"nice":false,"zero":false}},
"color":{"condition":{"test":"datum.c >= datum.o","value":"#000000"},"value":"#e10000"}}},
{"data":{"name":"px"},"transform":[{"fold":["e6","e10"],"as":["k","v"]}],
"mark":{"type":"line","strokeWidth":1.1,"clip":true},
"encoding":{"x":{"field":"d","type":"temporal","scale":{"type":"utc","domain":[{"year":2019,"month":8,"date":24,"utc":true},{"year":2024,"month":9,"date":28,"utc":true}]}},
"y":{"field":"v","type":"quantitative","scale":{"domain":[17.83,63.04],"nice":false,"zero":false}},
"color":{"field":"k","type":"nominal","scale":{"domain":["e6","e10"],"range":["#3a8a3a","#a482da"]},
"legend":{"orient":"top-left","offset":2,"direction":"vertical","title":"INTC (Weekly) 18.89","titleFontSize":7.5,"titleFontWeight":"normal","titleColor":"#000000","titleFont":"DejaVu Sans","titlePadding":1.75,"symbolType":"stroke","symbolSize":49,"symbolStrokeWidth":2,"labelFontSize":7.5,"labelFont":"DejaVu Sans","labelOffset":2,"rowPadding":1.5,"padding":0,
"labelExpr":"datum.value == 'e6' ? 'EMA(6) 21.91' : 'EMA(10) 23.97'",
"labelColor":{"expr":"datum.value == 'e6' ? '#3a7d3a' : '#9c6fd1'"}}}}}
]},
{"width":743,"height":82,
"layer":[
{"data":{"values":[{}]},"mark":{"type":"rule","color":"#c83c64","strokeWidth":1.5},
"encoding":{"y":{"datum":0,"type":"quantitative","scale":{"domain":[-1.25,13.39],"nice":false,"zero":false},
"axis":{"orient":"right","title":null,"values":[0,2.5,5,7.5,10,12.5],"tickCount":100,"labelOverlap":false,"format":".1f","tickSize":3,"tickColor":"#555555","domain":false,"labelPadding":0,"minExtent":42,"maxExtent":42,"gridColor":"#cddfee"}}}},
{"data":{"name":"pmo"},"mark":{"type":"line","strokeWidth":1.3,"clip":true},
"encoding":{"x":{"field":"d","type":"temporal","scale":{"type":"utc","domain":[{"year":2019,"month":8,"date":24,"utc":true},{"year":2024,"month":9,"date":28,"utc":true}]},
"axis":{"title":null,"labels":false,"ticks":false,"domain":false,"grid":true,"gridColor":"#bcd3e6","tickCount":100,"values":[{"year":2019,"month":10,"date":1,"utc":true},{"year":2020,"month":1,"date":1,"utc":true},{"year":2020,"month":4,"date":1,"utc":true},{"year":2020,"month":7,"date":1,"utc":true},{"year":2020,"month":10,"date":1,"utc":true},{"year":2021,"month":1,"date":1,"utc":true},{"year":2021,"month":4,"date":1,"utc":true},{"year":2021,"month":7,"date":1,"utc":true},{"year":2021,"month":10,"date":1,"utc":true},{"year":2022,"month":1,"date":1,"utc":true},{"year":2022,"month":4,"date":1,"utc":true},{"year":2022,"month":7,"date":1,"utc":true},{"year":2022,"month":10,"date":1,"utc":true},{"year":2023,"month":1,"date":1,"utc":true},{"year":2023,"month":4,"date":1,"utc":true},{"year":2023,"month":7,"date":1,"utc":true},{"year":2023,"month":10,"date":1,"utc":true},{"year":2024,"month":1,"date":1,"utc":true},{"year":2024,"month":4,"date":1,"utc":true},{"year":2024,"month":7,"date":1,"utc":true}]}},
"y":{"field":"v","type":"quantitative","scale":{"domain":[-1.25,13.39],"nice":false,"zero":false}},
"color":{"field":"k","type":"nominal","scale":{"domain":["pmo","sig"],"range":["#000000","#cc5a80"]},
"legend":{"orient":"top-left","offset":2,"direction":"horizontal","columns":2,"title":null,"symbolType":"stroke","symbolSize":49,"symbolStrokeWidth":2,"labelFontSize":9.5,"labelFont":"DejaVu Sans","labelOffset":1,"columnPadding":-22,"padding":0,
"labelExpr":"datum.value == 'pmo' ? 'PMO(35,20,10) -12.24,' : '-8.06'",
"labelColor":{"expr":"datum.value == 'pmo' ? '#333333' : '#c8406e'"},
"symbolOpacity":{"expr":"datum.value == 'pmo' ? 1 : 0"}}}}},
{"data":{"name":"pmo"},"transform":[{"filter":"datum.k == 'pmo'"}],"mark":{"type":"line","strokeWidth":2.2,"color":"#000000","clip":true},
"encoding":{"x":{"field":"d","type":"temporal","scale":{"type":"utc","domain":[{"year":2019,"month":8,"date":24,"utc":true},{"year":2024,"month":9,"date":28,"utc":true}]}},
"y":{"field":"v","type":"quantitative","scale":{"domain":[-1.25,13.39],"nice":false,"zero":false}}}}
]}
]}
